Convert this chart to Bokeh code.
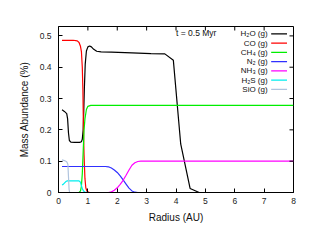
import math
from bokeh.plotting import figure
from bokeh.models import Range1d, FixedTicker, Label
from bokeh.embed import file_html
from bokeh.resources import INLINE

# ---------------- data ----------------
r_h2o = [0.12, 0.2, 0.28, 0.31, 0.34, 0.37, 0.42, 0.55, 0.72, 0.78, 0.81, 0.84, 0.86,
         0.88, 0.91, 0.95, 1.0, 1.06, 1.12, 1.2, 1.3, 1.45, 1.8, 2.5, 3.15, 3.62,
         3.91, 4.16, 4.48, 4.79, 8.0]
v_h2o = [0.264, 0.259, 0.252, 0.235, 0.19, 0.166, 0.161, 0.16, 0.16, 0.162, 0.17, 0.2, 0.26,
         0.33, 0.41, 0.452, 0.465, 0.468, 0.465, 0.457, 0.451, 0.449, 0.448, 0.446, 0.4436, 0.4426,
         0.422, 0.155, 0.013, 0.0, 0.0]

r_co = [0.12, 0.5, 0.64, 0.7, 0.75, 0.78, 0.81, 0.83, 0.85, 0.87, 0.9, 0.93, 0.97, 1.05]
v_co = [0.486, 0.486, 0.484, 0.479, 0.466, 0.45, 0.4, 0.33, 0.2, 0.12, 0.045, 0.015, 0.004, 0.0]

r_ch4 = [0.7, 0.75, 0.78, 0.81, 0.84, 0.87, 0.9, 0.95, 1.0, 1.1, 8.0]
v_ch4 = [0.0, 0.005, 0.02, 0.06, 0.13, 0.2, 0.235, 0.265, 0.275, 0.278, 0.278]

r_n2 = [0.12, 1.6, 1.7, 1.8, 1.9, 2.0, 2.1, 2.2, 2.3, 2.4, 2.5, 2.6, 2.7, 8.0]
v_n2 = [0.083, 0.083, 0.082, 0.078, 0.072, 0.064, 0.053, 0.04, 0.027, 0.014, 0.005, 0.001, 0.0, 0.0]

r_nh3 = [0.12, 1.7, 1.8, 1.9, 2.0, 2.1, 2.2, 2.3, 2.4, 2.5, 2.6, 2.7, 2.8, 8.0]
v_nh3 = [0.0, 0.0, 0.002, 0.007, 0.015, 0.026, 0.039, 0.055, 0.072, 0.087, 0.095, 0.099, 0.1, 0.1]

r_h2s = [0.12, 0.16, 0.2, 0.25, 0.3, 0.7, 0.74, 0.78, 0.82, 0.86, 0.9, 1.0]
v_h2s = [0.024, 0.026, 0.03, 0.035, 0.037, 0.037, 0.034, 0.022, 0.01, 0.004, 0.001, 0.0]

r_sio = [0.12, 0.2, 0.28, 0.32, 0.34, 0.36, 0.38, 0.42]
v_sio = [0.104, 0.102, 0.098, 0.09, 0.05, 0.01, 0.0, 0.0]

names = ["H\u2082O (g)", "CO (g)", "CH\u2084 (g)", "N\u2082 (g)", "NH\u2083 (g)", "H\u2082S (g)", "SiO (g)"]
x_ticks = [0, 1, 2, 3, 4, 5, 6, 7, 8]
y_ticks = [0, 0.1, 0.2, 0.3, 0.4, 0.5]
time_label = "t = 0.5 Myr"

# ---------------- styles ----------------
colors = ["#000000", "#ff0000", "#00ee00", "#3030ff", "#ff00ff", "#00eeee", "#b0c4de"]
FONT = "Liberation Sans"
X_MIN, X_MAX, Y_MIN, Y_MAX = 0, 8, 0, 0.53

p = figure(width=304, height=233, output_backend="svg", toolbar_location=None,
           x_range=Range1d(X_MIN, X_MAX), y_range=Range1d(Y_MIN, Y_MAX),
           min_border_left=58, min_border_right=11, min_border_top=26, min_border_bottom=41)
p.xgrid.visible = False
p.ygrid.visible = False
p.outline_line_color = "black"
p.outline_line_width = 1
p.background_fill_color = "white"
p.border_fill_color = "white"

series = [(r_h2o, v_h2o), (r_co, v_co), (r_ch4, v_ch4), (r_n2, v_n2),
          (r_nh3, v_nh3), (r_h2s, v_h2s), (r_sio, v_sio)]
for (rr, vv), c in zip(series, colors):
    p.line(rr, vv, line_color=c, line_width=1.2)

for ax in (p.xaxis[0], p.yaxis[0]):
    ax.axis_line_color = "black"
    ax.major_tick_in = 4
    ax.major_tick_out = 0
    ax.minor_tick_line_color = None
    ax.major_tick_line_color = "black"
    ax.major_label_text_font = FONT
    ax.major_label_text_color = "#222222"
    ax.major_label_text_font_size = "8.5px"
    ax.axis_label_text_font = FONT
    ax.axis_label_text_font_size = "10px"
    ax.axis_label_text_font_style = "normal"
    ax.axis_label_text_color = "#111111"

p.xaxis.ticker = FixedTicker(ticks=x_ticks)
p.yaxis.ticker = FixedTicker(ticks=y_ticks)
p.yaxis.major_label_overrides = {0: "0"}
p.xaxis.major_label_standoff = 5
p.yaxis.major_label_standoff = 7
p.xaxis.axis_label = "Radius (AU)"
p.yaxis.axis_label = "Mass Abundance (%)"
p.xaxis.axis_label_standoff = 5
p.yaxis.axis_label_standoff = 7

# mirrored inward ticks on the top and right edges (gnuplot style)
p.ray(x=x_ticks, y=[Y_MAX] * len(x_ticks), length=4, length_units="screen",
      angle=-math.pi / 2, line_color="black", line_width=1)
p.ray(x=[X_MAX] * len(y_ticks), y=y_ticks, length=4, length_units="screen",
      angle=math.pi, line_color="black", line_width=1)

# time annotation
p.add_layout(Label(x=4.0, y=0.509, text=time_label, text_font=FONT, text_font_size="8.5px",
                   text_baseline="middle", text_align="left", text_color="#111111"))

# legend (gnuplot style: right-aligned text, then sample line)
LEG_XT, LEG_X0, LEG_X1 = 7.12, 7.24, 7.78
LEG_Y0, LEG_DY = 0.5065, 0.0295
for i, (nm, c) in enumerate(zip(names, colors)):
    yy = LEG_Y0 - i * LEG_DY
    p.add_layout(Label(x=LEG_XT, y=yy, text=nm, text_font=FONT, text_font_size="8px",
                       text_align="right", text_baseline="middle", text_color="#111111"))
    p.segment(x0=[LEG_X0], y0=[yy], x1=[LEG_X1], y1=[yy], line_color=c, line_width=1.2)

open("out.html", "w").write(file_html(p, INLINE))
